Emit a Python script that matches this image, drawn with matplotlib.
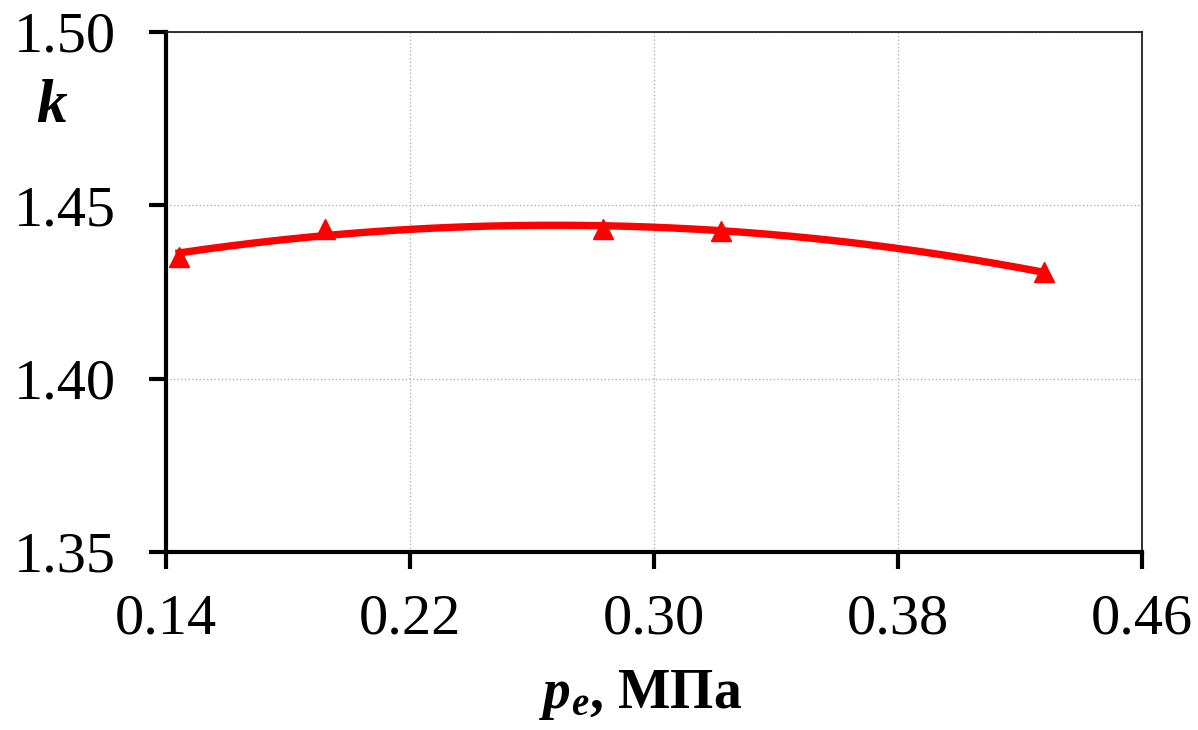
import matplotlib
matplotlib.use("Agg")
import matplotlib.pyplot as plt
import numpy as np

# данные: давление pe (МПа) и показатель k
pe = [0.1443, 0.1922, 0.2834, 0.3221, 0.4279]
k = [1.4352, 1.4432, 1.4432, 1.4425, 1.4309]

x_ticks = [0.14, 0.22, 0.30, 0.38, 0.46]
y_ticks = [1.35, 1.40, 1.45, 1.50]

plt.rcParams['font.family'] = 'Liberation Serif'
plt.rcParams['mathtext.fontset'] = 'custom'
plt.rcParams['mathtext.rm'] = 'Liberation Serif'
plt.rcParams['mathtext.bfit'] = 'Liberation Serif:bold:italic'
plt.rcParams['mathtext.it'] = 'Liberation Serif:italic'

fig = plt.figure(figsize=(11.98, 7.30), dpi=100)
ax = fig.add_axes([166 / 1198, 1 - 552 / 730, (1142 - 166) / 1198, (552 - 32) / 730])

# полиномиальный тренд 2-й степени
coef = np.polyfit(pe, k, 2)
xs = np.linspace(min(pe), max(pe), 200)
ax.plot(xs, np.polyval(coef, xs), color='#ff0000', lw=5.3, zorder=3)
ax.plot(pe, k, ls='none', marker='^', ms=15, color='#ff0000', zorder=4)

ax.set_xlim(0.14, 0.46)
ax.set_ylim(1.35, 1.50)
ax.set_xticks(x_ticks)
ax.set_yticks(y_ticks)
ax.set_xticklabels([f"{v:.2f}" for v in x_ticks])
ax.set_yticklabels([f"{v:.2f}" for v in y_ticks])

ax.grid(True, color='#b4b4b4', ls=':', lw=1)
for side in ['left', 'bottom']:
    ax.spines[side].set_linewidth(3)
    ax.spines[side].set_color('black')
for side in ['top', 'right']:
    ax.spines[side].set_linewidth(1.3)
    ax.spines[side].set_color('#202020')

ax.tick_params(axis='both', direction='out', length=12, width=3, labelsize=42)
ax.tick_params(axis='y', pad=24)
ax.tick_params(axis='x', pad=18)

fig.text(52 / 1198, 1 - 107 / 730, r'$\mathbfit{k}$', fontsize=44,
         ha='center', va='center')
fig.text(640 / 1198, 1 - 708 / 730, r'$\mathbfit{p_e}$, МПа', fontsize=40,
         fontweight='bold', ha='center', va='baseline')

fig.savefig('out.png', dpi=100)
